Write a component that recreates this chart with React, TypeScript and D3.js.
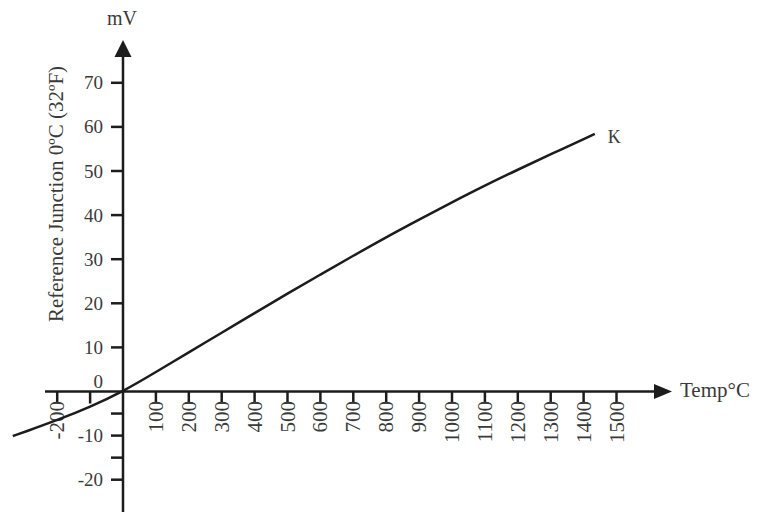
import React from "react";
import * as d3 from "d3";

const temps = [-335, -300, -200, -100, 0, 100, 200, 300, 400, 500, 600, 700, 800, 900, 1000, 1100, 1200, 1300, 1434];
const millivolts = [-10.1, -9.2, -6.5, -3.5, 0, 4.4, 8.9, 13.3, 17.8, 22.2, 26.5, 30.8, 35.0, 39.0, 42.9, 46.7, 50.3, 53.8, 58.4];
const xTicks = [-200, -100, 100, 200, 300, 400, 500, 600, 700, 800, 900, 1000, 1100, 1200, 1300, 1400, 1500];
const xTickLabels = [-200, 100, 200, 300, 400, 500, 600, 700, 800, 900, 1000, 1100, 1200, 1300, 1400, 1500];
const yTicks = [70, 60, 50, 40, 30, 20, 10, -10, -20];
const yMinorTicks = [-5, -15];
const seriesLabel = "K";
const yTitle = "Reference Junction 0ºC (32ºF)";
const xTitle = "Temp°C";
const yUnit = "mV";

const W = 759;
const H = 512;
const INK = "#1c1c1c";
const TXT = "#3a3a3a";
const FONT = "'Liberation Serif', 'Times New Roman', serif";

export default function App() {
  const x = d3.scaleLinear().domain([0, 1500]).range([123, 616.5]);
  const y = d3.scaleLinear().domain([0, 70]).range([391.5, 82.8]);
  const x0 = x(0);
  const y0 = y(0);
  const pts = temps.map((t, i) => [t, millivolts[i]] as [number, number]);
  const line = d3
    .line<[number, number]>()
    .x((d) => x(d[0]))
    .y((d) => y(d[1]))
    .curve(d3.curveBasis);
  const last = pts[pts.length - 1];

  return (
    <svg
      width={W}
      height={H}
      style={{ position: "absolute", left: 0, top: 0, background: "#fff" }}
      fontFamily={FONT}
    >
      <rect x={0} y={0} width={W} height={H} fill="#fff" />
      {/* y axis */}
      <line x1={x0} x2={x0} y1={H} y2={50} stroke={INK} strokeWidth={2.5} />
      <path d={`M${x0},40 L${x0 - 8.5},57 L${x0 + 8.5},57 Z`} fill={INK} />
      <text x={x0 - 1} y={25} fontSize={20} textAnchor="middle" fill={TXT}>
        {yUnit}
      </text>
      {/* x axis */}
      <line x1={45} x2={660} y1={y0} y2={y0} stroke={INK} strokeWidth={2.5} />
      <path d={`M672,${y0} L654,${y0 - 7.5} L654,${y0 + 7.5} Z`} fill={INK} />
      <text x={680} y={397} fontSize={21} fill={TXT}>
        {xTitle}
      </text>
      {/* y ticks */}
      {yTicks.map((v) => (
        <g key={"y" + v}>
          <line x1={x0 - 12} x2={x0} y1={y(v)} y2={y(v)} stroke={INK} strokeWidth={2.5} />
          <text
            x={103}
            y={y(v)}
            fontSize={19}
            textAnchor="end"
            dominantBaseline="central"
            fill={TXT}
          >
            {v}
          </text>
        </g>
      ))}
      {yMinorTicks.map((v) => (
        <line key={"ym" + v} x1={x0 - 12} x2={x0} y1={y(v)} y2={y(v)} stroke={INK} strokeWidth={2.5} />
      ))}
      <text x={103} y={388} fontSize={19} textAnchor="end" fill={TXT}>
        0
      </text>
      {/* x ticks */}
      {xTicks.map((v) => (
        <line key={"xt" + v} x1={x(v)} x2={x(v)} y1={y0} y2={y0 + 12} stroke={INK} strokeWidth={2.5} />
      ))}
      {xTickLabels.map((v) => (
        <text
          key={"xl" + v}
          transform={`translate(${x(v)},401) rotate(-90)`}
          fontSize={21}
          textAnchor="end"
          dominantBaseline="central"
          fill={TXT}
        >
          {v}
        </text>
      ))}
      {/* y title */}
      <text
        transform={`translate(63,194) rotate(-90)`}
        fontSize={21}
        textAnchor="middle"
        fill={TXT}
      >
        {yTitle}
      </text>
      {/* curve */}
      <path d={line(pts) || ""} fill="none" stroke={INK} strokeWidth={2.5} />
      <text x={x(last[0]) + 13} y={y(last[1]) + 9} fontSize={18} fill={TXT}>
        {seriesLabel}
      </text>
    </svg>
  );
}
